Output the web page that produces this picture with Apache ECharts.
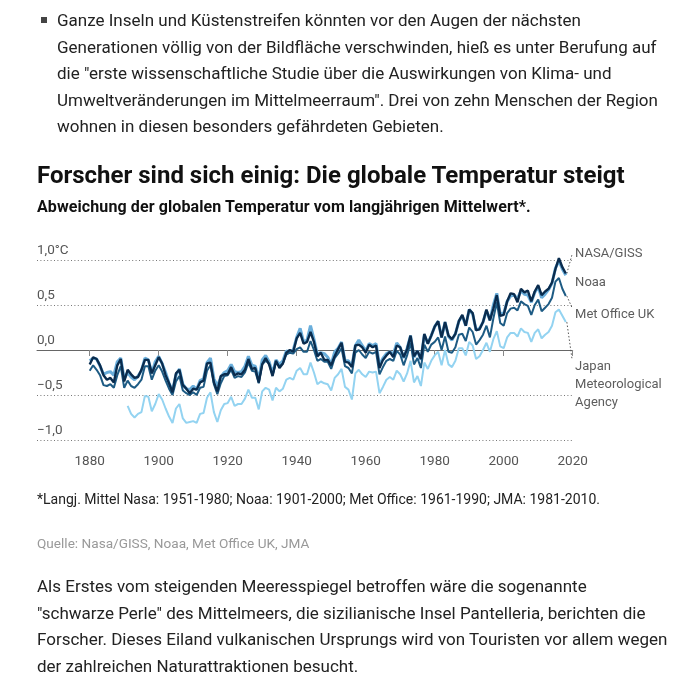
<!DOCTYPE html>
<html>
<head>
<meta charset="utf-8">
<script src="https://cdn.jsdelivr.net/npm/echarts@6/dist/echarts.min.js"></script>
<style>
  html, body { margin: 0; padding: 0; background: #fff; }
  body { width: 699px; height: 688px; position: relative; overflow: hidden; font-family: Roboto, "Noto Sans", sans-serif; color: #222; }
  #chart { position: absolute; left: 0; top: 0; width: 699px; height: 688px; }
  .t { position: absolute; white-space: nowrap; }
  .para { font-size: 17px; line-height: 26.5px; color: #222; }
  #p1 { left: 57px; top: 7px; }
  #bullet { position: absolute; left: 41px; top: 17px; width: 6px; height: 6px; background: #444; }
  #title { left: 37px; top: 160px; font-size: 24px; line-height: 30px; font-weight: 700; color: #111; }
  #sub { left: 37px; top: 197px; font-size: 16px; line-height: 20px; font-weight: 700; color: #111; letter-spacing: 0.1px; }
  #note { left: 37px; top: 489px; font-size: 14px; line-height: 20px; color: #222; }
  #src { left: 37px; top: 533px; font-size: 13.6px; line-height: 20px; color: #999; }
  #p2 { left: 37px; top: 573px; }
</style>
</head>
<body>
<div id="chart"></div>
<div id="bullet"></div>
<div class="t para" id="p1">Ganze Inseln und Küstenstreifen könnten vor den Augen der nächsten<br>Generationen völlig von der Bildfläche verschwinden, hieß es unter Berufung auf<br>die "erste wissenschaftliche Studie über die Auswirkungen von Klima- und<br>Umweltveränderungen im Mittelmeerraum". Drei von zehn Menschen der Region<br>wohnen in diesen besonders gefährdeten Gebieten.</div>
<div class="t" id="title">Forscher sind sich einig: Die globale Temperatur steigt</div>
<div class="t" id="sub">Abweichung der globalen Temperatur vom langjährigen Mittelwert*.</div>
<div class="t" id="note">*Langj. Mittel Nasa: 1951-1980; Noaa: 1901-2000; Met Office: 1961-1990; JMA: 1981-2010.</div>
<div class="t" id="src">Quelle: Nasa/GISS, Noaa, Met Office UK, JMA</div>
<div class="t para" id="p2">Als Erstes vom steigenden Meeresspiegel betroffen wäre die sogenannte<br>"schwarze Perle" des Mittelmeers, die sizilianische Insel Pantelleria, berichten die<br>Forscher. Dieses Eiland vulkanischen Ursprungs wird von Touristen vor allem wegen<br>der zahlreichen Naturattraktionen besucht.</div>
<script>
// ---- data (°C anomaly, annual) ----
const firstYear = 1880;
const jmaFirstYear = 1891;

const nasa = [
  -0.16,-0.08,-0.10,-0.17,-0.28,-0.33,-0.31,-0.36,-0.17,-0.10,
  -0.35,-0.22,-0.27,-0.31,-0.30,-0.22,-0.11,-0.11,-0.26,-0.17,
  -0.08,-0.15,-0.28,-0.37,-0.47,-0.26,-0.22,-0.39,-0.43,-0.48,
  -0.43,-0.44,-0.36,-0.34,-0.15,-0.14,-0.36,-0.46,-0.29,-0.27,
  -0.27,-0.19,-0.28,-0.26,-0.27,-0.22,-0.10,-0.21,-0.20,-0.36,
  -0.16,-0.09,-0.16,-0.29,-0.12,-0.20,-0.15,-0.03,-0.00,-0.02,
   0.13, 0.19, 0.07, 0.09, 0.20, 0.09,-0.07,-0.03,-0.11,-0.11,
  -0.17,-0.07, 0.01, 0.08,-0.13,-0.14,-0.19, 0.05, 0.06, 0.03,
  -0.03, 0.06, 0.03, 0.05,-0.20,-0.11,-0.06,-0.02,-0.08, 0.05,
   0.03,-0.08, 0.01, 0.16,-0.07,-0.01,-0.10, 0.18, 0.07, 0.16,
   0.26, 0.32, 0.14, 0.31, 0.16, 0.12, 0.18, 0.32, 0.39, 0.27,
   0.45, 0.41, 0.22, 0.23, 0.31, 0.45, 0.33, 0.46, 0.61, 0.38,
   0.39, 0.54, 0.63, 0.62, 0.53, 0.68, 0.64, 0.66, 0.54, 0.65,
   0.72, 0.61, 0.65, 0.68, 0.75, 0.90, 1.02, 0.92, 0.85
];

const noaa = [
  -0.12,-0.09,-0.10,-0.18,-0.27,-0.25,-0.24,-0.28,-0.13,-0.09,
  -0.32,-0.25,-0.30,-0.33,-0.29,-0.23,-0.09,-0.11,-0.26,-0.13,
  -0.07,-0.15,-0.25,-0.37,-0.45,-0.28,-0.21,-0.38,-0.43,-0.44,
  -0.40,-0.44,-0.34,-0.32,-0.14,-0.09,-0.32,-0.40,-0.30,-0.25,
  -0.23,-0.16,-0.24,-0.25,-0.24,-0.18,-0.07,-0.17,-0.18,-0.33,
  -0.11,-0.06,-0.13,-0.26,-0.11,-0.16,-0.12,-0.01,-0.02, 0.00,
   0.14, 0.24, 0.09, 0.11, 0.27, 0.12,-0.05,-0.03,-0.04,-0.08,
  -0.16,-0.02, 0.02, 0.09,-0.12,-0.12,-0.18, 0.05, 0.11, 0.05,
  -0.01, 0.07, 0.05, 0.07,-0.17,-0.09,-0.04,-0.02,-0.05, 0.08,
   0.03,-0.09, 0.02, 0.16,-0.08,-0.01,-0.11, 0.17, 0.07, 0.16,
   0.26, 0.32, 0.14, 0.31, 0.15, 0.11, 0.18, 0.32, 0.38, 0.27,
   0.45, 0.40, 0.22, 0.24, 0.31, 0.44, 0.33, 0.50, 0.63, 0.40,
   0.41, 0.54, 0.60, 0.61, 0.57, 0.66, 0.62, 0.61, 0.53, 0.64,
   0.70, 0.58, 0.62, 0.67, 0.74, 0.91, 0.99, 0.90, 0.83
];

const metOffice = [
  -0.23,-0.17,-0.22,-0.28,-0.39,-0.40,-0.38,-0.42,-0.28,-0.18,
  -0.42,-0.34,-0.40,-0.42,-0.38,-0.33,-0.18,-0.18,-0.33,-0.23,
  -0.17,-0.24,-0.34,-0.43,-0.50,-0.35,-0.29,-0.45,-0.48,-0.50,
  -0.47,-0.50,-0.42,-0.41,-0.23,-0.17,-0.38,-0.49,-0.37,-0.29,
  -0.28,-0.22,-0.31,-0.29,-0.30,-0.25,-0.14,-0.23,-0.24,-0.37,
  -0.16,-0.12,-0.15,-0.28,-0.14,-0.18,-0.15,-0.05,-0.03,-0.04,
   0.01, 0.03,-0.02,-0.02, 0.10, 0.00,-0.12,-0.10,-0.13,-0.13,
  -0.21,-0.09,-0.04, 0.02,-0.18,-0.20,-0.26,-0.03, 0.00,-0.05,
  -0.09,-0.02,-0.04,-0.02,-0.27,-0.19,-0.12,-0.10,-0.12,-0.01,
  -0.05,-0.17,-0.06, 0.08,-0.16,-0.09,-0.20, 0.06,-0.02, 0.06,
   0.09, 0.14, 0.00, 0.15,-0.02,-0.03, 0.03, 0.17, 0.18, 0.10,
   0.25, 0.20, 0.06, 0.11, 0.17, 0.27, 0.14, 0.35, 0.53, 0.30,
   0.27, 0.41, 0.46, 0.47, 0.44, 0.54, 0.51, 0.49, 0.39, 0.50,
   0.56, 0.43, 0.47, 0.51, 0.58, 0.76, 0.80, 0.68, 0.60
];

const jma = [
  -0.62,-0.71,-0.75,-0.71,-0.69,-0.51,-0.52,-0.68,-0.60,
  -0.49,-0.55,-0.65,-0.74,-0.81,-0.65,-0.60,-0.76,-0.81,-0.80,
  -0.79,-0.81,-0.71,-0.70,-0.53,-0.47,-0.69,-0.80,-0.67,-0.60,
  -0.59,-0.52,-0.62,-0.60,-0.60,-0.54,-0.44,-0.53,-0.53,-0.66,
  -0.46,-0.42,-0.44,-0.56,-0.42,-0.46,-0.43,-0.33,-0.31,-0.33,
  -0.23,-0.20,-0.27,-0.27,-0.14,-0.25,-0.38,-0.35,-0.37,-0.38,
  -0.45,-0.31,-0.27,-0.21,-0.41,-0.44,-0.55,-0.26,-0.22,-0.27,
  -0.30,-0.24,-0.25,-0.24,-0.48,-0.41,-0.33,-0.30,-0.33,-0.23,
  -0.27,-0.35,-0.26,-0.12,-0.36,-0.29,-0.40,-0.14,-0.21,-0.12,
  -0.06,-0.02,-0.17, 0.00,-0.16,-0.19,-0.12, 0.02, 0.02,-0.06,
   0.09, 0.05,-0.10,-0.07, 0.00, 0.08,-0.02, 0.12, 0.21, 0.04,
   0.02, 0.14, 0.19, 0.19, 0.15, 0.24, 0.20, 0.19, 0.09, 0.19,
   0.23, 0.13, 0.17, 0.20, 0.27, 0.42, 0.45, 0.38, 0.31
];

const xTicks = [1880, 1900, 1920, 1940, 1960, 1980, 2000, 2020];
const yTicks = [-1.0, -0.5, 0.0, 0.5, 1.0];
const yTickLabels = ['\u22121,0', '\u22120,5', '0,0', '0,5', '1,0°C'];

// right-hand series labels
const labelNames = ['NASA/GISS', 'Noaa', 'Met Office UK', 'Japan\nMeteorological\nAgency'];
const labelValues = [1.067, 0.745, 0.39, -0.39];
const leaderTargets = [1.06, null, 0.47, -0.10];

// ---- build ----
const toPairs = (start, arr) => arr.map((v, i) => [start + i, v]);
const nasaData = toPairs(firstYear, nasa);
const noaaData = toPairs(firstYear, noaa);
const metData = toPairs(firstYear, metOffice);
const jmaData = toPairs(jmaFirstYear, jma);
const lastYear = firstYear + nasa.length - 1;
const seriesEnds = [nasa[nasa.length - 1], noaa[noaa.length - 1], metOffice[metOffice.length - 1], jma[jma.length - 1]];

const chart = echarts.init(document.getElementById('chart'), null, { renderer: 'canvas' });

const plotTop = 260, plotBottom = 688 - 440, plotRightPx = 699 - 572.7;

const leaderSeries = [];
leaderTargets.forEach((t, i) => {
  if (t === null) return;
  leaderSeries.push({
    type: 'line', xAxisIndex: 0, yAxisIndex: 0, silent: true, symbol: 'none', clip: false, z: 1,
    lineStyle: { color: '#555', width: 1, type: [1.5, 2] },
    data: [[lastYear + 0.3, seriesEnds[i]], [lastYear + 1.8, t]]
  });
});

const labelColor = '#333';
const option = {
  animation: false,
  grid: [
    { left: 89.7, right: plotRightPx, top: plotTop, bottom: plotBottom },
    { left: 37, right: plotRightPx, top: plotTop, bottom: plotBottom }
  ],
  xAxis: [
    {
      gridIndex: 0, type: 'value', min: 1880, max: 2020, interval: 20,
      axisLine: { show: false },
      axisTick: { show: true, length: 6, lineStyle: { color: '#888', width: 1 } },
      axisLabel: { color: '#555', fontSize: 13.5, margin: 15, fontFamily: 'Roboto',
        formatter: (v) => (xTicks.indexOf(v) >= 0 ? String(v) : '') },
      splitLine: { show: false }
    },
    {
      gridIndex: 1, type: 'value', min: 0, max: 1,
      axisLine: { show: true, onZero: true, lineStyle: { color: '#666', width: 1 } },
      axisTick: { show: false }, axisLabel: { show: false }, splitLine: { show: false }
    }
  ],
  yAxis: [
    {
      gridIndex: 0, type: 'value', min: -1, max: 1, interval: 0.5, show: false
    },
    {
      gridIndex: 1, type: 'value', min: -1, max: 1, interval: 0.5,
      axisLine: { show: false }, axisTick: { show: false },
      axisLabel: {
        inside: true, align: 'left', verticalAlign: 'bottom', margin: 0,
        padding: [0, 0, 2, 0], color: '#555', fontSize: 13.5, fontFamily: 'Roboto',
        formatter: (v) => { const k = yTicks.findIndex(t => Math.abs(t - v) < 1e-6); return k >= 0 ? yTickLabels[k] : ''; }
      },
      splitLine: { show: true, lineStyle: { color: '#777', width: 1, type: [1, 2.4] } }
    }
  ],
  series: [
    { name: 'JMA', type: 'line', xAxisIndex: 0, yAxisIndex: 0, data: jmaData, symbol: 'none', clip: false, z: 2,
      lineStyle: { color: '#93d3f1', width: 2 } },
    { name: 'Noaa', type: 'line', xAxisIndex: 0, yAxisIndex: 0, data: noaaData, symbol: 'none', clip: false, z: 3,
      lineStyle: { color: '#6aaedb', width: 3 } },
    { name: 'Met Office UK', type: 'line', xAxisIndex: 0, yAxisIndex: 0, data: metData, symbol: 'none', clip: false, z: 4,
      lineStyle: { color: '#1d5b84', width: 2 } },
    { name: 'NASA/GISS', type: 'line', xAxisIndex: 0, yAxisIndex: 0, data: nasaData, symbol: 'none', clip: false, z: 5,
      lineStyle: { color: '#0a2c4e', width: 2.4 } },
    ...leaderSeries,
    {
      type: 'scatter', xAxisIndex: 0, yAxisIndex: 0, silent: true, symbolSize: 0, clip: false, z: 6,
      data: labelNames.map((n, i) => ({ name: n, value: [2020.7, labelValues[i]] })),
      label: { show: true, position: 'right', distance: 0, formatter: (p) => p.name,
        color: labelColor, fontSize: 13, lineHeight: 18, fontFamily: 'Roboto' }
    }
  ]
};
chart.setOption(option);
</script>
</body>
</html>
